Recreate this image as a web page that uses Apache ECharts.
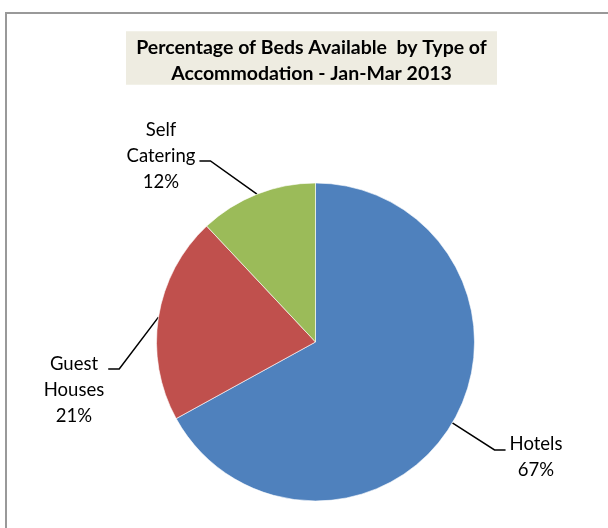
<!DOCTYPE html>
<html>
<head>
<meta charset="utf-8">
<script src="https://cdn.jsdelivr.net/npm/echarts@6/dist/echarts.min.js"></script>
<style>
html,body{margin:0;padding:0;background:#fff;}
#chart{width:608px;height:528px;}
</style>
</head>
<body>
<div id="chart"></div>
<script>
// ---- data ----
const categories = ['Hotels', 'Guest\nHouses', 'Self\nCatering'];
const values = [67, 21, 12];
const colors = ['#4f81bd', '#c0504d', '#9bbb59'];
const titleLines = ['Percentage of Beds Available  by Type of', 'Accommodation - Jan-Mar 2013'];

// ---- label placement (style, not data) ----
const labelPlace = [
  { x: 536, y: 457.5, lineY: 450, side: 'left' },
  { x: 74, y: 390.5, lineY: 369, side: 'right' },
  { x: 161, y: 156, lineY: 161, side: 'right' }
];

const chart = echarts.init(document.getElementById('chart'), null, { renderer: 'canvas' });

const option = {
  backgroundColor: '#ffffff',
  animation: false,
  title: {
    text: titleLines.map(t => '{t|' + t + '}').join('\n'),
    left: 126,
    top: 28,
    padding: [6, 10, 1, 10],
    backgroundColor: '#eeece1',
    textStyle: {
      rich: {
        t: {
          width: 351,
          align: 'center',
          fontFamily: 'Lato',
          fontWeight: 'bold',
          fontSize: 19.5,
          lineHeight: 26.5,
          color: '#000'
        }
      }
    }
  },
  graphic: [{
    type: 'rect',
    silent: true,
    shape: { x: 6, y: 13, width: 800, height: 800 },
    style: { fill: 'none', stroke: '#999999', lineWidth: 2 }
  }],
  series: [{
    type: 'pie',
    center: [315.5, 342],
    radius: 159,
    startAngle: 90,
    clockwise: true,
    avoidLabelOverlap: false,
    percentPrecision: 0,
    itemStyle: { borderColor: '#ffffff', borderWidth: 0.6 },
    label: {
      show: true,
      position: 'outside',
      formatter: '{b}\n{d}%',
      fontFamily: 'Lato',
      fontSize: 18.5,
      lineHeight: 26,
      color: '#000',
      align: 'center'
    },
    labelLine: {
      show: true,
      length: 20,
      length2: 10,
      lineStyle: { color: '#000', width: 1.5 }
    },
    labelLayout: function (params) {
      const p = labelPlace[params.dataIndex];
      const w = params.labelRect.width;
      const gap = 4, elbow = 11;
      const endX = p.side === 'left' ? p.x - w / 2 - gap : p.x + w / 2 + gap;
      const elbowX = p.side === 'left' ? endX - elbow : endX + elbow;
      const p0 = params.labelLinePoints ? params.labelLinePoints[0] : [elbowX, p.lineY];
      return {
        x: p.x,
        y: p.y,
        align: 'center',
        verticalAlign: 'middle',
        labelLinePoints: [p0, [elbowX, p.lineY], [endX, p.lineY]]
      };
    },
    data: categories.map((c, i) => ({
      name: c,
      value: values[i],
      itemStyle: { color: colors[i] }
    }))
  }]
};

chart.setOption(option);
</script>
</body>
</html>
